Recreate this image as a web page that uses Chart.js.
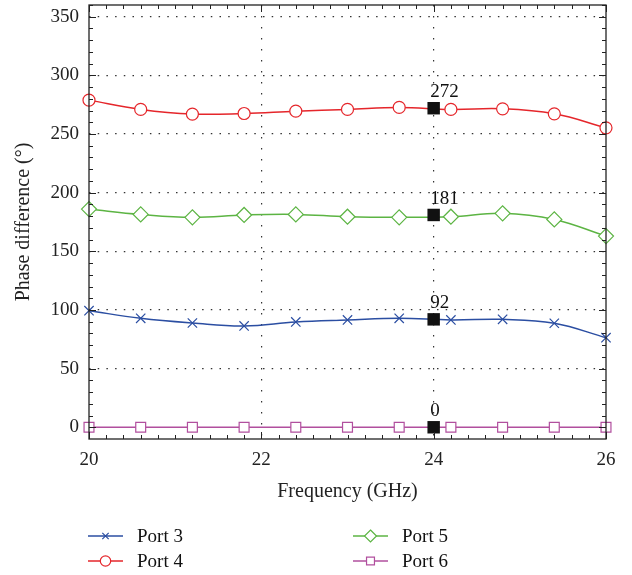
<!DOCTYPE html>
<html>
<head>
<meta charset="utf-8">
<title>Phase difference</title>
<script src="https://cdn.jsdelivr.net/npm/chart.js@4.4.1/dist/chart.umd.min.js"></script>
<style>
    html, body { margin: 0; padding: 0; background: #fff; }
    #wrap { width: 632px; height: 575px; }
</style>
</head>
<body>
<div id="wrap"><canvas id="phaseChart" width="632" height="575"></canvas></div>
<script>
// Data
var frequency = [20, 20.6, 21.2, 21.8, 22.4, 23.0, 23.6, 24.2, 24.8, 25.4, 26.0];
var port3 = [99.4, 92.9, 88.9, 86.4, 89.8, 91.5, 92.9, 91.5, 92.0, 88.7, 76.4];
var port4 = [278.9, 271.0, 267.0, 267.5, 269.5, 271.0, 272.7, 271.0, 271.5, 267.2, 255.3];
var port5 = [186.0, 181.5, 179.0, 181.0, 181.5, 179.5, 179.0, 179.5, 182.4, 177.2, 163.0];
var port6 = [0, 0, 0, 0, 0, 0, 0, 0, 0, 0, 0];

var markedFrequency = 24;
var markedValues = [272, 181, 92, 0];

var portNames = ["Port 3", "Port 4", "Port 5", "Port 6"];
var yTickValues = [0, 50, 100, 150, 200, 250, 300, 350];
var xTickValues = [20, 22, 24, 26];

var serif = '"Liberation Serif", "DejaVu Serif", serif';
var colors = ["#2b4ea2", "#e5262b", "#5cb443", "#b14f9e"];
var styles = ["crossRot", "circle", "rectRot", "rect"];
var radii = [6.6, 6, 7.5, 7];
var legendRadii = [4.5, 5.2, 6, 5.6];

function toPoints(xs, ys) {
    return xs.map(function (x, i) { return { x: x, y: ys[i] }; });
}

var seriesValues = [port3, port4, port5, port6];
var datasets = seriesValues.map(function (vals, i) {
    return {
        label: portNames[i],
        data: toPoints(frequency, vals),
        borderColor: colors[i],
        borderWidth: 1.5,
        pointStyle: styles[i],
        pointRadius: radii[i],
        pointBorderWidth: 1.2,
        pointBorderColor: colors[i],
        pointBackgroundColor: "#fff",
        tension: 0.4,
        clip: false
    };
});

datasets.push({
    label: "marked",
    data: markedValues.map(function (v) { return { x: markedFrequency, y: v }; }),
    showLine: false,
    pointStyle: "rect",
    pointRadius: 8.8,
    pointBorderWidth: 0,
    pointBackgroundColor: "#111",
    order: -1,
    clip: false
});

// box with inner ticks on all four sides
var framePlugin = {
    id: "frame",
    afterDatasetsDraw: function (chart) {
        var ctx = chart.ctx, a = chart.chartArea;
        var xs = chart.scales.x, ys = chart.scales.y;
        ctx.save();
        ctx.strokeStyle = "#222";
        ctx.lineWidth = 1.3;
        ctx.strokeRect(a.left, a.top, a.right - a.left, a.bottom - a.top);
        ctx.lineWidth = 1;
        ctx.beginPath();
        for (var i = 0; i <= 36; i++) {
            var py = Math.round(ys.getPixelForValue(i * 10)) + 0.5;
            var len = i % 5 === 0 ? 7 : 4;
            ctx.moveTo(a.left, py); ctx.lineTo(a.left + len, py);
            ctx.moveTo(a.right, py); ctx.lineTo(a.right - len, py);
        }
        for (var j = 0; j <= 30; j++) {
            var px = Math.round(xs.getPixelForValue(20 + j * 0.2)) + 0.5;
            var l2 = j % 10 === 0 ? 7 : 4;
            ctx.moveTo(px, a.bottom); ctx.lineTo(px, a.bottom - l2);
            ctx.moveTo(px, a.top); ctx.lineTo(px, a.top + l2);
        }
        ctx.stroke();

        // value labels above the black squares
        var meta = chart.getDatasetMeta(4);
        ctx.fillStyle = "#111";
        ctx.font = "19px " + serif;
        ctx.textAlign = "left";
        ctx.textBaseline = "alphabetic";
        meta.data.forEach(function (pt, k) {
            ctx.fillText(String(markedValues[k]), pt.x - 3.5, pt.y - 11);
        });
        ctx.restore();
    }
};

function drawMarker(ctx, style, x, y, r) {
    ctx.beginPath();
    if (style === "circle") {
        ctx.arc(x, y, r, 0, Math.PI * 2);
        ctx.fill(); ctx.stroke();
    } else if (style === "rect") {
        var s = r * Math.SQRT1_2;
        ctx.rect(x - s, y - s, 2 * s, 2 * s);
        ctx.fill(); ctx.stroke();
    } else if (style === "rectRot") {
        ctx.moveTo(x, y - r); ctx.lineTo(x + r, y); ctx.lineTo(x, y + r); ctx.lineTo(x - r, y); ctx.closePath();
        ctx.fill(); ctx.stroke();
    } else {
        var c = r * Math.SQRT1_2;
        ctx.moveTo(x - c, y - c); ctx.lineTo(x + c, y + c);
        ctx.moveTo(x + c, y - c); ctx.lineTo(x - c, y + c);
        ctx.stroke();
    }
}

// two-column legend under the axis title
var legendPlugin = {
    id: "portLegend",
    afterDraw: function (chart) {
        var ctx = chart.ctx;
        var slots = [[88, 536], [88, 561], [353, 536], [353, 561]];
        ctx.save();
        portNames.forEach(function (name, i) {
            var x = slots[i][0], y = slots[i][1];
            ctx.strokeStyle = colors[i];
            ctx.lineWidth = 1.5;
            ctx.beginPath();
            ctx.moveTo(x, y); ctx.lineTo(x + 35, y);
            ctx.stroke();
            ctx.fillStyle = "#fff";
            ctx.lineWidth = 1.2;
            drawMarker(ctx, styles[i], x + 17.5, y, legendRadii[i]);
            ctx.fillStyle = "#111";
            ctx.font = "19px " + serif;
            ctx.textBaseline = "middle";
            ctx.fillText(name, x + 49, y + 1);
        });
        ctx.restore();
    }
};

var gridColor = function (ctx) {
    var v = ctx.tick ? ctx.tick.value : null;
    if (v === 20 || v === 26 || v === 0) return "rgba(0,0,0,0)";
    return "#333";
};

function noScalePadding(scale) {
    scale.paddingTop = 0;
    scale.paddingBottom = 0;
    scale.paddingLeft = 0;
    scale.paddingRight = 0;
}

var ctx = document.getElementById("phaseChart").getContext("2d");
var chart = new Chart(ctx, {
    type: "line",
    data: { datasets: datasets },
    plugins: [framePlugin, legendPlugin],
    options: {
        responsive: false,
        animation: false,
        layout: {
            autoPadding: false,
            padding: { left: 0, right: 26, top: 5, bottom: 65 }
        },
        plugins: {
            legend: { display: false },
            tooltip: { enabled: false }
        },
        scales: {
            x: {
                type: "linear",
                min: 20,
                max: 26,
                afterBuildTicks: function (scale) {
                    scale.ticks = xTickValues.map(function (v) { return { value: v }; });
                },
                afterFit: function (scale) {
                    scale.height = 71;
                    noScalePadding(scale);
                },
                grid: {
                    color: gridColor,
                    lineWidth: 1.2,
                    drawTicks: false
                },
                border: { display: false, dash: [1.5, 9.5] },
                ticks: {
                    padding: 10,
                    color: "#222",
                    maxRotation: 0,
                    font: { family: serif, size: 19 }
                },
                title: {
                    display: true,
                    text: "Frequency (GHz)",
                    color: "#222",
                    padding: { top: 0, bottom: 6 },
                    font: { family: serif, size: 20 }
                }
            },
            y: {
                type: "linear",
                min: -10,
                max: 360,
                afterBuildTicks: function (scale) {
                    scale.ticks = yTickValues.map(function (v) { return { value: v }; });
                },
                afterFit: function (scale) {
                    scale.width = 89;
                    noScalePadding(scale);
                },
                grid: {
                    color: gridColor,
                    lineWidth: 1.2,
                    drawTicks: false
                },
                border: { display: false, dash: [1.5, 7.2] },
                ticks: {
                    padding: 10,
                    color: "#222",
                    font: { family: serif, size: 19 }
                },
                title: {
                    display: true,
                    text: "Phase difference (°)",
                    color: "#222",
                    padding: { top: 12, bottom: 0 },
                    font: { family: serif, size: 20 }
                }
            }
        }
    }
});
</script>
</body>
</html>
